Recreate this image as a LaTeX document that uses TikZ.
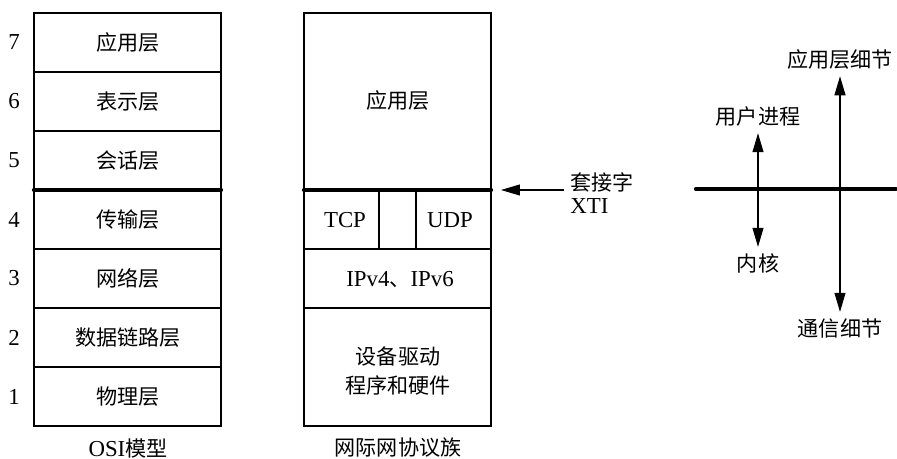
\documentclass[tikz,border=0pt]{standalone}
\usepackage{fontspec}
\setmainfont{Liberation Serif}
\newfontfamily\cjk{Noto Sans CJK SC}
\usetikzlibrary{arrows.meta}

\begin{document}
\begin{tikzpicture}[x=0.02cm, y=-0.02cm, line width=0.6pt,
  every node/.style={font=\fontsize{13pt}{16pt}\selectfont},
  layer/.style={font=\fontsize{12pt}{16pt}\selectfont\cjk},
  sep/.style={line width=2.4pt, line cap=round},
  tip/.style={-{Triangle[length=0.38cm, width=0.22cm]}},
  both/.style={{Triangle[length=0.38cm, width=0.22cm]}-{Triangle[length=0.38cm, width=0.22cm]}}]

\useasboundingbox (0,0) rectangle (897,459);

% OSI model column
\draw (34,13) rectangle (221,426);
\foreach \y in {72,131,249,308,367}
  \draw (34,\y) -- (221,\y);
\draw[sep] (34,190) -- (221,190);

% Layer names and numbers
\foreach \n/\name [count=\i] in {7/应用层,6/表示层,5/会话层,4/传输层,3/网络层,2/数据链路层,1/物理层} {
  \node[layer] (osi\n) at (128, 59*\i-16.5) {\name};
  \node (num\n) at (14, 59*\i-16.5) {\n};
}
\node (osicap) at (128,448) {OSI{\fontsize{12pt}{16pt}\selectfont\cjk 模型}};

% Internet protocol suite column
\draw (304,13) rectangle (491,426);
\draw (304,249) -- (491,249);
\draw (304,308) -- (491,308);
\draw (379,190) -- (379,249);
\draw (416,190) -- (416,249);
\draw[sep] (304,190) -- (491,190);

\node[layer] (app) at (398,101) {应用层};
\node (tcp) at (345,220) {TCP};
\node (udp) at (450,220) {UDP};
\node (ip) at (400,280) {IPv4{\fontsize{12pt}{16pt}\selectfont\cjk 、}IPv6};
\node[layer, align=center] (drv) at (398,371) {设备驱动\\程序和硬件};
\node[layer] (ipcap) at (398,448) {网际网协议族};

% Socket / XTI pointer
\coordinate (socktip) at (501,190);
\node[align=left, anchor=west, font=\fontsize{13pt}{13pt}\selectfont] (sock) at (564,193) {{\fontsize{12pt}{13pt}\selectfont\cjk 套接字}\\XTI};
\draw[tip] (sock.west |- socktip) -- (socktip);

% User / kernel boundary
\draw[sep] (696,189) -- (896,189);
\node[layer] (user) at (758,117) {用户进程};
\node[layer] (kern) at (758,263) {内核};
\draw[both] (user) -- (kern);

\node[layer] (appdet) at (840,60) {应用层细节};
\node[layer] (comm) at (840,328) {通信细节};
\draw[both] (appdet) -- (comm);

\end{tikzpicture}
\end{document}
